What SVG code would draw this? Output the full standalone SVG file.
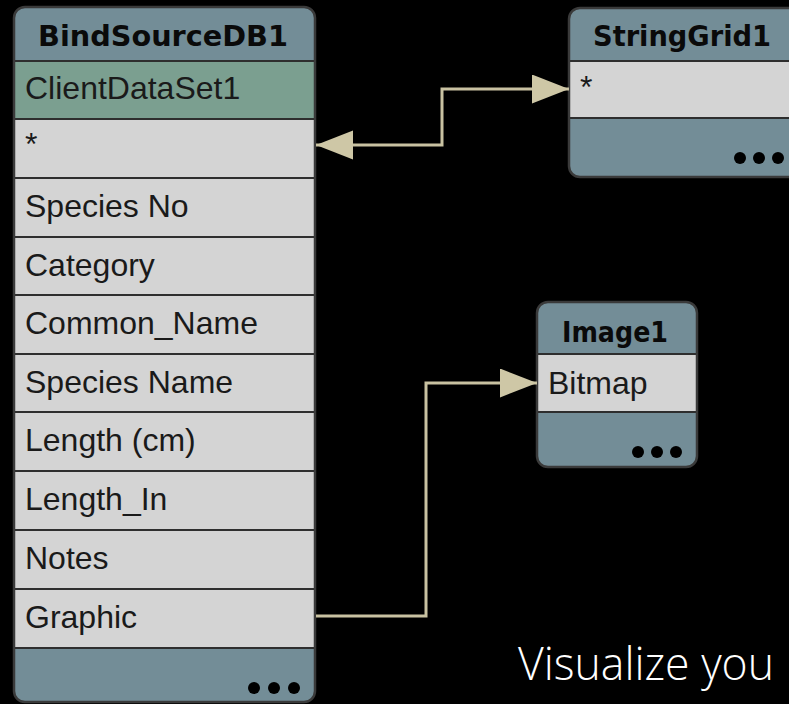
<svg xmlns="http://www.w3.org/2000/svg" width="789" height="704" viewBox="0 0 789 704">
<style>
.hdr{fill:#738d97}
.sel{fill:#7b9f90}
.row{fill:#d4d4d4}
.sep{stroke:#2e2e2e;stroke-width:2}
.brd{fill:none;stroke:#3a3a3a;stroke-width:2.5}
.title{font-family:"DejaVu Sans",sans-serif;font-weight:bold;font-size:28px;fill:#0a0a0a;text-anchor:middle}
.fld{font-family:"Liberation Sans",Arial,sans-serif;font-size:32px;fill:#1a1a1a}
.dot{fill:#000}
.con{fill:none;stroke:#c9c2a2;stroke-width:3}
</style>
<defs>
<marker id="ah" markerUnits="userSpaceOnUse" markerWidth="40" markerHeight="32" refX="37" refY="14.5" orient="auto-start-reverse">
<path d="M0,0 L37,14.5 L0,29 z" fill="#cec7a6"/>
</marker>
<clipPath id="cB"><rect x="14" y="7" width="301" height="695" rx="11"/></clipPath>
<clipPath id="cS"><rect x="569" y="8" width="240" height="169" rx="11"/></clipPath>
<clipPath id="cI"><rect x="537" y="302" width="160" height="165" rx="11"/></clipPath>
</defs>
<rect width="789" height="704" fill="#000"/>

<g id="BindSourceDB1">
<g clip-path="url(#cB)">
<rect class="hdr" x="14" y="7" width="301" height="54"/>
<rect class="sel" x="14" y="61" width="301" height="58"/>
<rect class="row" x="14" y="119" width="301" height="529"/>
<rect class="hdr" x="14" y="648" width="301" height="54"/>
</g>
<g class="sep">
<line x1="14" y1="61" x2="315" y2="61"/>
<line x1="14" y1="119" x2="315" y2="119"/>
<line x1="14" y1="178" x2="315" y2="178"/>
<line x1="14" y1="237" x2="315" y2="237"/>
<line x1="14" y1="295" x2="315" y2="295"/>
<line x1="14" y1="354" x2="315" y2="354"/>
<line x1="14" y1="412" x2="315" y2="412"/>
<line x1="14" y1="471" x2="315" y2="471"/>
<line x1="14" y1="530" x2="315" y2="530"/>
<line x1="14" y1="589" x2="315" y2="589"/>
<line x1="14" y1="648" x2="315" y2="648"/>
</g>
<rect class="brd" x="14" y="7" width="301" height="695" rx="11"/>
<text class="title" x="163" y="46" textLength="250" lengthAdjust="spacingAndGlyphs">BindSourceDB1</text>
<text class="fld" x="25" y="99">ClientDataSet1</text>
<text class="fld" x="25" y="155">*</text>
<text class="fld" x="25" y="217">Species No</text>
<text class="fld" x="25" y="276">Category</text>
<text class="fld" x="25" y="334">Common_Name</text>
<text class="fld" x="25" y="393">Species Name</text>
<text class="fld" x="25" y="451">Length (cm)</text>
<text class="fld" x="25" y="510">Length_In</text>
<text class="fld" x="25" y="569">Notes</text>
<text class="fld" x="25" y="628">Graphic</text>
<circle class="dot" cx="254" cy="688" r="6"/>
<circle class="dot" cx="274" cy="688" r="6"/>
<circle class="dot" cx="294" cy="688" r="6"/>
</g>

<g id="StringGrid1">
<g clip-path="url(#cS)">
<rect class="hdr" x="569" y="8" width="240" height="53"/>
<rect class="row" x="569" y="61" width="240" height="57"/>
<rect class="hdr" x="569" y="118" width="240" height="59"/>
</g>
<g class="sep">
<line x1="569" y1="61" x2="809" y2="61"/>
<line x1="569" y1="118" x2="809" y2="118"/>
</g>
<rect class="brd" x="569" y="8" width="240" height="169" rx="11"/>
<text class="title" x="682" y="46" textLength="178" lengthAdjust="spacingAndGlyphs">StringGrid1</text>
<text class="fld" x="580" y="98">*</text>
<circle class="dot" cx="740" cy="158" r="6"/>
<circle class="dot" cx="759" cy="158" r="6"/>
<circle class="dot" cx="778" cy="158" r="6"/>
</g>

<g id="Image1">
<g clip-path="url(#cI)">
<rect class="hdr" x="537" y="302" width="160" height="52"/>
<rect class="row" x="537" y="354" width="160" height="58"/>
<rect class="hdr" x="537" y="412" width="160" height="55"/>
</g>
<g class="sep">
<line x1="537" y1="354" x2="697" y2="354"/>
<line x1="537" y1="412" x2="697" y2="412"/>
</g>
<rect class="brd" x="537" y="302" width="160" height="165" rx="11"/>
<text class="title" x="615" y="342" textLength="106" lengthAdjust="spacingAndGlyphs">Image1</text>
<text class="fld" x="548" y="394">Bitmap</text>
<circle class="dot" cx="638" cy="452" r="6"/>
<circle class="dot" cx="657" cy="452" r="6"/>
<circle class="dot" cx="676" cy="452" r="6"/>
</g>

<g id="connectors">
<polyline class="con" points="316,145 442,145 442,89 569,89" marker-start="url(#ah)" marker-end="url(#ah)"/>
<polyline class="con" points="316,616 426,616 426,383 537,383" marker-end="url(#ah)"/>
</g>

<text x="518" y="680" font-family="'Open Sans',Lato,sans-serif" font-weight="300" font-size="46" fill="#fff" textLength="256" lengthAdjust="spacingAndGlyphs">Visualize you</text>
</svg>
